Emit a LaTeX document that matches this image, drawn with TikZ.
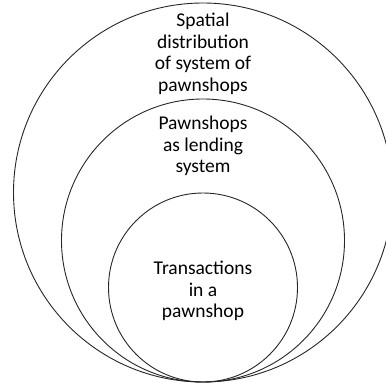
\documentclass[tikz,border=0pt]{standalone}
\usepackage{fontspec}
\setmainfont{Carlito}
\begin{document}
\begin{tikzpicture}[x=1pt,y=-1pt,
  ring/.style={draw=black!85, line width=0.9pt},
  label/.style={align=center, inner sep=0pt, anchor=north,
    font=\fontsize{19.5}{21.6}\selectfont}]
  \useasboundingbox (0,0) rectangle (386,383);
  \clip (0,0) rectangle (386,383);
  % nested circles, all touching at the bottom
  \draw[ring] (203,192.5) circle (189.5);
  \draw[ring] (203,240.5) circle (141.5);
  \draw[ring] (203,287.5) circle (94.5);
  % labels
  \node[label] (outer) at (203,13) {Spatial\\distribution\\of system of\\pawnshops};
  \node[label] (middle) at (203,116) {Pawnshops\\as lending\\system};
  \node[label] (inner) at (203,261) {Transactions\\in a\\pawnshop};
\end{tikzpicture}
\end{document}
